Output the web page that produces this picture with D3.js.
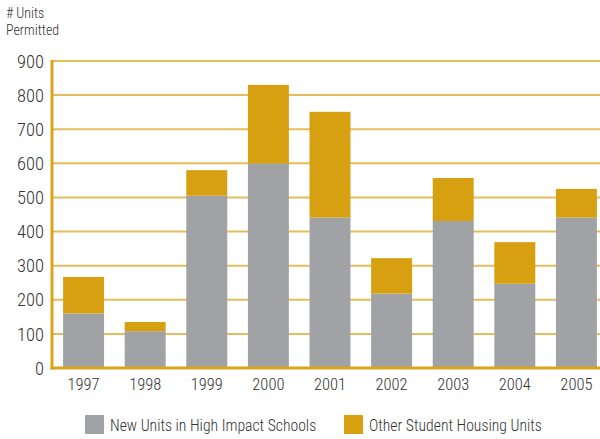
<!DOCTYPE html>
<html><head><meta charset="utf-8">
<script src="https://cdn.jsdelivr.net/npm/d3@7"></script>
<style>
html,body{margin:0;padding:0;background:#fff;}
svg{display:block;}
text{font-family:"Roboto Condensed",sans-serif;font-weight:300;fill:#333;}
</style></head>
<body>
<script>
const years = ["1997","1998","1999","2000","2001","2002","2003","2004","2005"];
const highImpact = [160,108,505,600,441,218,431,247,441];
const otherHousing = [107,27,75,230,310,104,126,122,84];
const yTicks = [0,100,200,300,400,500,600,700,800,900];
const seriesNames = ["New Units in High Impact Schools","Other Student Housing Units"];
const colors = ["#a1a2a6","#d6a010"];

const W = 600, H = 439;
const svg = d3.select("body").append("svg").attr("width", W).attr("height", H);

const y = d3.scaleLinear().domain([0,900]).range([368,61]);
const x = d3.scaleBand().domain(years).range([52,608]).paddingInner(0.335).paddingOuter(0.18);

// gridlines
svg.append("g").selectAll("line").data(yTicks.filter(d=>d>0)).join("line")
  .attr("x1",52).attr("x2",600)
  .attr("y1",d=>y(d)).attr("y2",d=>y(d))
  .attr("stroke","#e4bd5c").attr("stroke-width",2);

// bars
const stacked = d3.stack().keys([0,1]).value((d,k)=>d[k])(years.map((yr,i)=>[highImpact[i],otherHousing[i]]));
svg.append("g").selectAll("g").data(stacked).join("g")
  .attr("fill",(d,i)=>colors[i])
  .selectAll("rect").data(d=>d).join("rect")
  .attr("x",(d,i)=>x(years[i]))
  .attr("width",x.bandwidth())
  .attr("y",d=>y(d[1]))
  .attr("height",d=>y(d[0])-y(d[1]));

// axes lines
svg.append("line").attr("x1",52).attr("x2",52).attr("y1",60).attr("y2",369.5)
  .attr("stroke","#d9a51c").attr("stroke-width",3);
svg.append("line").attr("x1",50.5).attr("x2",600).attr("y1",368).attr("y2",368)
  .attr("stroke","#d9a51c").attr("stroke-width",3);

// y tick labels
svg.append("g").selectAll("text").data(yTicks).join("text")
  .attr("x",44).attr("y",d=>y(d)).attr("dy","0.36em")
  .attr("text-anchor","end").attr("font-size",18.5).text(d=>d);

// x labels
svg.append("g").selectAll("text").data(years).join("text")
  .attr("x",d=>x(d)+x.bandwidth()/2).attr("y",390)
  .attr("text-anchor","middle").attr("font-size",16.5).text(d=>d);

// y title
svg.append("text").attr("x",6).attr("y",18).attr("font-size",14).text("# Units");
svg.append("text").attr("x",6).attr("y",35).attr("font-size",14).text("Permitted");

// legend
const legX = [85,344];
const leg = svg.append("g").selectAll("g").data(seriesNames).join("g")
  .attr("transform",(d,i)=>`translate(${legX[i]},415)`);
leg.append("rect").attr("width",19).attr("height",19).attr("fill",(d,i)=>colors[i]);
leg.append("text").attr("x",25).attr("y",15.5).attr("font-size",15.7).text(d=>d);
</script>
</body></html>
